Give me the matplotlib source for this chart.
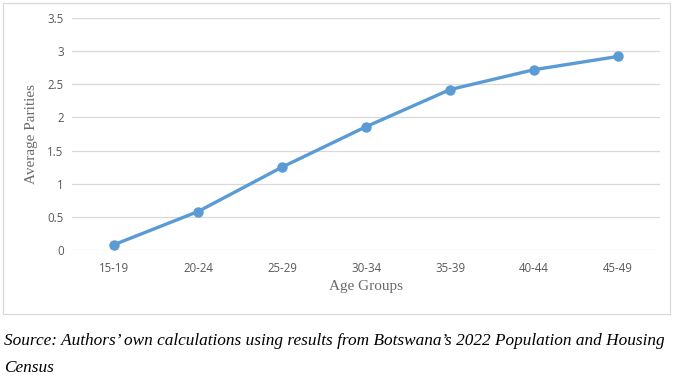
import matplotlib.pyplot as plt
from matplotlib.patches import Rectangle

age_groups = ['15-19', '20-24', '25-29', '30-34', '35-39', '40-44', '45-49']
parities = [0.08, 0.58, 1.25, 1.86, 2.42, 2.72, 2.92]
y_ticks = [0, 0.5, 1, 1.5, 2, 2.5, 3, 3.5]
y_labels = ['0', '0.5', '1', '1.5', '2', '2.5', '3', '3.5']

fig = plt.figure(figsize=(6.8, 3.8), dpi=100)
ax = fig.add_axes([72/680, 1 - 250/380, 588/680, 232/380])

x = range(len(age_groups))
ax.plot(x, parities, color='#5b9bd5', lw=2.4, marker='o', ms=6.5, zorder=3)

ax.set_xlim(-0.5, len(age_groups) - 0.5)
ax.set_ylim(0, 3.5)
ax.set_yticks(y_ticks)
ax.set_yticklabels(y_labels)
ax.set_xticks(list(x))
ax.set_xticklabels(age_groups)
ax.grid(axis='y', color='#d9d9d9', lw=0.9)
ax.set_axisbelow(True)
for s in ax.spines.values():
    s.set_visible(False)
ax.tick_params(length=0, labelsize=8.3, labelcolor='#595959', pad=6)
for lbl in ax.get_xticklabels() + ax.get_yticklabels():
    lbl.set_fontfamily('Open Sans')
ax.tick_params(axis='x', pad=9)

ax.set_xlabel('Age Groups', family='Liberation Serif', fontsize=11, color='#6a6a6a', labelpad=3)
ax.set_ylabel('Average Parities', family='Liberation Serif', fontsize=11, color='#6a6a6a', labelpad=7)

# chart border
fig.patches.append(Rectangle((3/680, 1 - 314/380), 667/680, 311/380, transform=fig.transFigure,
                             fill=False, ec='#d9d9d9', lw=0.9))

fig.text(4/680, 1 - 341/380,
         "Source: Authors\u2019 own calculations using results from Botswana\u2019s 2022 Population and Housing",
         family='Liberation Serif', style='italic', fontsize=12.4, va='center', ha='left')
fig.text(4/680, 1 - 368/380, 'Census',
         family='Liberation Serif', style='italic', fontsize=12.4, va='center', ha='left')

fig.savefig('out.png', dpi=100)
